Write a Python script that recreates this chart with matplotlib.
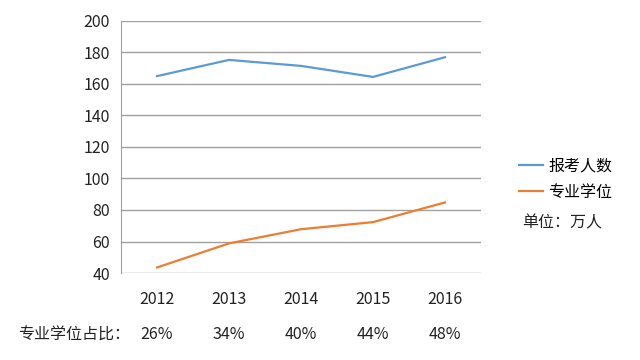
import matplotlib
matplotlib.use('Agg')
from matplotlib import pyplot as plt

plt.rcParams['font.family'] = ['Noto Sans CJK SC', 'DejaVu Sans']

years = ['2012', '2013', '2014', '2015', '2016']
applicants = [165, 175.3, 171.5, 164.5, 177]
professional = [43.5, 58.8, 67.8, 72.3, 84.8]
shares = ['26%', '34%', '40%', '44%', '48%']

fig = plt.figure(figsize=(6.4, 3.6), dpi=100)
ax = fig.add_axes([121 / 640, 1 - 273 / 360, 360 / 640, 252 / 360])

x = range(len(years))
ax.plot(x, applicants, color='#5B9BD5', lw=1.6, label='报考人数')
ax.plot(x, professional, color='#ED7D31', lw=1.6, label='专业学位')

ax.set_xlim(-0.5, len(years) - 0.5)
ax.set_ylim(40, 200)
ax.set_yticks(range(40, 201, 20))
ax.grid(axis='y', color='#A0A0A0', lw=1)
ax.set_axisbelow(True)
for s in ['top', 'right', 'bottom']:
    ax.spines[s].set_visible(False)
ax.spines['left'].set_color('#A0A0A0')
ax.tick_params(axis='y', length=0, pad=8, labelsize=11.5, colors='#222222')
ax.set_xticks([])

# year labels and share row below the plot
for i, (yr, sh) in enumerate(zip(years, shares)):
    ax.text(i, -0.105, yr, transform=ax.get_xaxis_transform(), ha='center',
            va='center', fontsize=11.5, color='#222222')
    ax.text(i, -0.245, sh, transform=ax.get_xaxis_transform(), ha='center',
            va='center', fontsize=11.5, color='#222222')
fig.text(18 / 640, 1 - 335 / 360, '专业学位占比：', ha='left', va='center',
         fontsize=11.5, color='#222222')

ax.legend(loc='upper left', bbox_to_anchor=(505 / 640, 1 - 143 / 360),
          bbox_transform=fig.transFigure, frameon=False, fontsize=11.5,
          handlelength=1.5, handletextpad=0.3, labelspacing=0.6)
fig.text(522 / 640, 1 - 223 / 360, '单位：万人', ha='left', va='center',
         fontsize=11.5, color='#222222')

fig.savefig('out.png', dpi=100)
